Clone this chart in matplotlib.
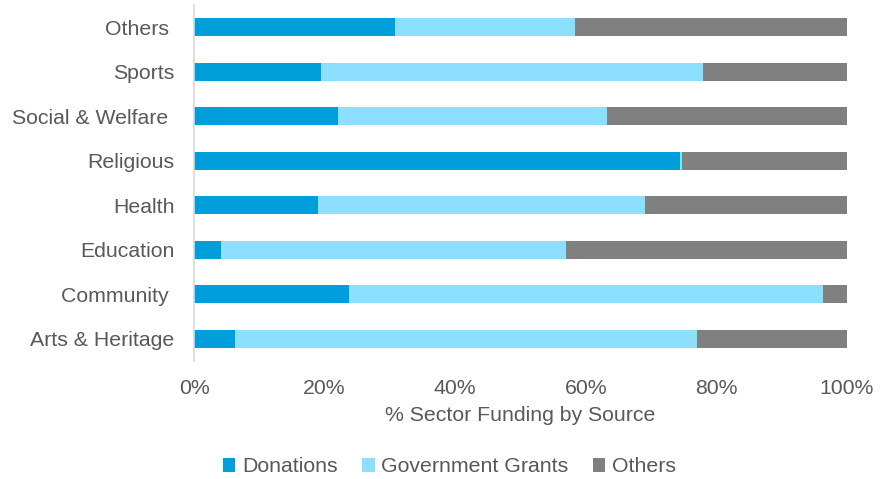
import matplotlib
matplotlib.use("Agg")
import matplotlib.pyplot as plt
import numpy as np

categories = ["Arts & Heritage", "Community ", "Education", "Health", "Religious",
              "Social & Welfare ", "Sports", "Others "]
donations = [6.3, 23.7, 4.1, 19.0, 74.4, 22.1, 19.4, 30.8]
government = [70.7, 72.6, 52.9, 50.1, 0.3, 41.1, 58.6, 27.5]
others = [100 - d - g for d, g in zip(donations, government)]

series_names = ["Donations", "Government Grants", "Others"]
colors = ["#009FDB", "#8CDFFF", "#808080"]

plt.rcParams['font.family'] = ['Liberation Sans', 'DejaVu Sans']
text_color = "#595959"
fs = 15.3

fig = plt.figure(figsize=(8.86, 4.79), dpi=100)
ax = fig.add_axes([194/886, 1 - 361/479, (847-194)/886, (361-5)/479])

y = np.arange(len(categories))
left = np.zeros(len(categories))
for vals, name, c in zip([donations, government, others], series_names, colors):
    ax.barh(y, vals, left=left, height=0.4, color=c, label=name)
    left += np.array(vals)

ax.set_xlim(0, 100)
ax.set_ylim(-0.5, len(categories) - 0.5)
ax.set_yticks(y)
ax.set_yticklabels(categories, fontsize=fs, color=text_color)
ax.set_xticks([0, 20, 40, 60, 80, 100])
ax.set_xticklabels([f"{v}%" for v in [0, 20, 40, 60, 80, 100]], fontsize=fs, color=text_color)
ax.tick_params(axis='both', length=0)
ax.tick_params(axis='y', pad=14)
ax.tick_params(axis='x', pad=13)
for s in ["top", "right", "bottom"]:
    ax.spines[s].set_visible(False)
ax.spines["left"].set_color("#D9D9D9")
ax.spines["left"].set_linewidth(1.2)
ax.set_xlabel("% Sector Funding by Source", fontsize=fs, color=text_color, labelpad=6)

handles, labels = ax.get_legend_handles_labels()
fig.legend(handles, labels, loc="center", bbox_to_anchor=(0.507, 1 - 467/479), ncol=3,
           frameon=False, fontsize=fs, labelcolor=text_color, handlelength=0.6,
           handleheight=0.6, handletextpad=0.3, columnspacing=1.15)

fig.savefig("out.png", dpi=100)
